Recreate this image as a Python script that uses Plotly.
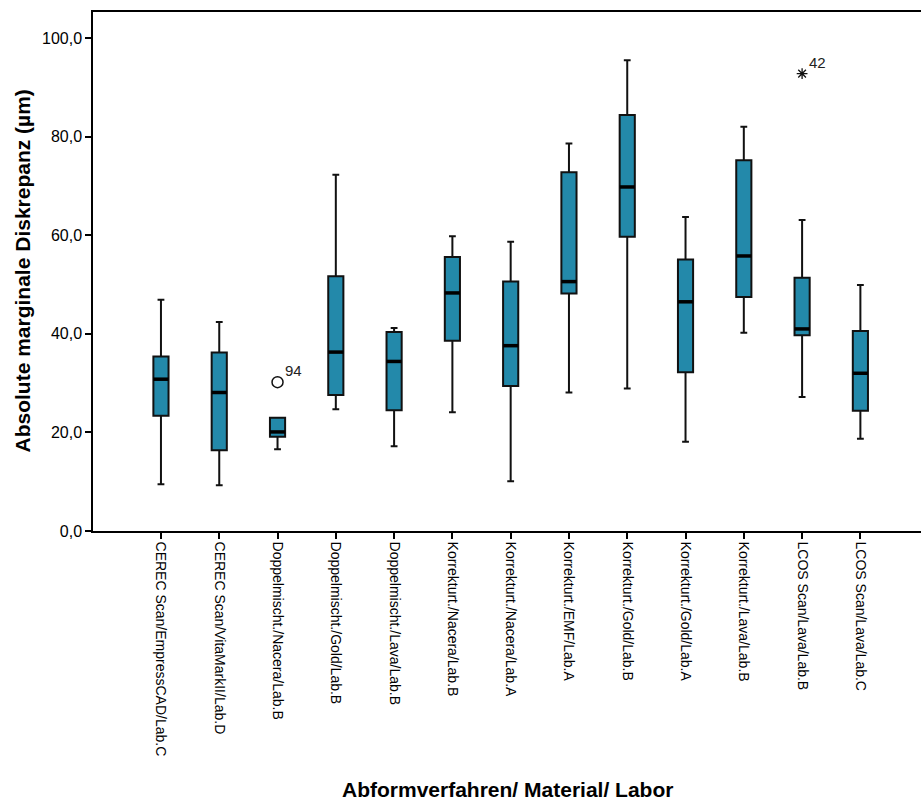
import plotly.graph_objects as go

# Groups (impression technique / material / lab)
categories = [
    "CEREC Scan/EmpressCAD/Lab.C",
    "CEREC Scan/VitaMarkII/Lab.D",
    "Doppelmischt./Nacera/Lab.B",
    "Doppelmischt./Gold/Lab.B",
    "Doppelmischt./Lava/Lab.B",
    "Korrekturt./Nacera/Lab.B",
    "Korrekturt./Nacera/Lab.A",
    "Korrekturt./EMF/Lab.A",
    "Korrekturt./Gold/Lab.B",
    "Korrekturt./Gold/Lab.A",
    "Korrekturt./Lava/Lab.B",
    "LCOS Scan/Lava/Lab.B",
    "LCOS Scan/Lava/Lab.C",
]

# Box statistics (µm)
whisker_low = [9.5, 9.3, 16.6, 24.7, 17.2, 24.1, 10.1, 28.1, 28.9, 18.1, 40.2, 27.2, 18.7]
q1 = [23.4, 16.4, 19.1, 27.6, 24.5, 38.6, 29.4, 48.2, 59.7, 32.2, 47.5, 39.7, 24.4]
median = [30.8, 28.1, 20.1, 36.3, 34.4, 48.3, 37.6, 50.6, 69.8, 46.5, 55.8, 41.0, 32.0]
q3 = [35.4, 36.2, 23.0, 51.7, 40.4, 55.6, 50.6, 72.8, 84.4, 55.1, 75.2, 51.4, 40.6]
whisker_high = [46.9, 42.4, 23.0, 72.3, 41.2, 59.8, 58.7, 78.6, 95.5, 63.7, 82.0, 63.1, 49.9]

# Outliers: group index, value, case number
outlier_group = [2]
outlier_value = [30.2]
outlier_case = ["94"]
extreme_group = [11]
extreme_value = [92.8]
extreme_case = ["42"]

y_ticks = [0, 20, 40, 60, 80, 100]
y_ticklabels = [f"{v:.1f}".replace(".", ",") for v in y_ticks]

BOX_FILL = "#2389AA"
INK = "#111111"
FONT = "Liberation Sans, Arial, sans-serif"
BOX_W = 0.26

xs = list(range(len(categories)))

fig = go.Figure()
fig.add_trace(go.Box(
    x=xs,
    q1=q1,
    median=median,
    q3=q3,
    lowerfence=whisker_low,
    upperfence=whisker_high,
    width=BOX_W,
    whiskerwidth=0.45,
    fillcolor=BOX_FILL,
    line=dict(color=INK, width=2),
    boxpoints=False,
    hoverinfo="skip",
    showlegend=False,
))

# Thick median bars
mx, my = [], []
for i, m in zip(xs, median):
    mx += [i - BOX_W / 2, i + BOX_W / 2, None]
    my += [m, m, None]
fig.add_trace(go.Scatter(
    x=mx, y=my, mode="lines",
    line=dict(color="black", width=3.5),
    hoverinfo="skip", showlegend=False,
))

# Outlier (circle) and extreme value (star) with case labels
fig.add_trace(go.Scatter(
    x=outlier_group, y=outlier_value, mode="markers",
    marker=dict(symbol="circle-open", size=11, color=INK, line=dict(width=1.5)),
    hoverinfo="skip", showlegend=False,
))
fig.add_trace(go.Scatter(
    x=extreme_group, y=extreme_value, mode="markers",
    marker=dict(symbol="asterisk-open", size=9, color=INK, line=dict(width=1.3, color=INK)),
    hoverinfo="skip", showlegend=False,
))
for g, v, c in list(zip(outlier_group, outlier_value, outlier_case)) + list(zip(extreme_group, extreme_value, extreme_case)):
    fig.add_annotation(
        x=g, y=v, text=c, showarrow=False,
        xanchor="left", yanchor="bottom", xshift=5, yshift=1,
        font=dict(family=FONT, size=15, color="#222222"),
    )

fig.update_layout(
    width=921, height=802,
    margin=dict(l=93, r=0, t=12, b=271),
    paper_bgcolor="white", plot_bgcolor="white",
    font=dict(family=FONT, color="black"),
)
fig.update_xaxes(
    range=[-1.166, 13.04],
    tickmode="array", tickvals=xs, ticktext=categories,
    tickangle=90, tickfont=dict(size=14, family=FONT, color="black"),
    ticks="outside", ticklen=6, tickwidth=2, tickcolor="black",
    showline=True, linecolor="black", linewidth=1.5, mirror=True,
    showgrid=False, zeroline=False,
)
fig.update_yaxes(
    range=[0, 105.3],
    tickmode="array", tickvals=y_ticks, ticktext=y_ticklabels,
    tickfont=dict(size=16, family=FONT, color="black"),
    ticks="outside", ticklen=6, tickwidth=2, tickcolor="black",
    showline=True, linecolor="black", linewidth=1.5,
    showgrid=False, zeroline=False,
)

# Axis titles
fig.add_annotation(
    xref="paper", yref="paper", x=0.5, y=-(789 - 531) / 519,
    text="<b>Abformverfahren/ Material/ Labor</b>", showarrow=False,
    xanchor="center", yanchor="middle",
    font=dict(family=FONT, size=21, color="black"),
)
fig.add_annotation(
    xref="paper", yref="paper", x=-(93 - 22) / 828, y=0.5,
    text="<b>Absolute marginale Diskrepanz (µm)</b>", showarrow=False,
    textangle=-90, xanchor="center", yanchor="middle",
    font=dict(family=FONT, size=21, color="black"),
)

fig.write_html("out.html")
